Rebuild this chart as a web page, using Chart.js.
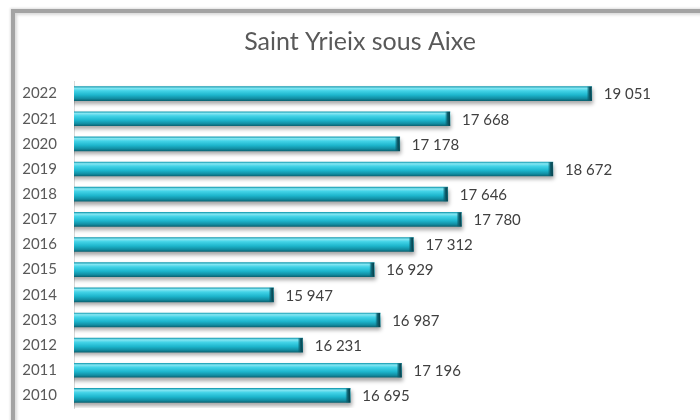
<!DOCTYPE html>
<html>
<head>
<meta charset="utf-8">
<script src="https://cdn.jsdelivr.net/npm/chart.js@4"></script>
<style>
    html, body { margin: 0; padding: 0; background: #fff; }
    #wrap { position: relative; width: 700px; height: 420px; overflow: hidden; }
    #cadre {
        position: absolute; left: 11px; top: 9px; width: 720px; height: 440px;
        border-top: 4px solid #a3a3a3; border-left: 4px solid #a3a3a3;
        box-shadow: inset 2px 2px 3px rgba(0,0,0,0.15), -1px -1px 2px rgba(0,0,0,0.12);
    }
    canvas { position: absolute; left: 0; top: 0; }
</style>
</head>
<body>
<div id="wrap">
    <div id="cadre"></div>
    <canvas id="chartPop" width="700" height="420"></canvas>
</div>
<script>
// Données
const annees = ['2022', '2021', '2020', '2019', '2018', '2017', '2016', '2015', '2014', '2013', '2012', '2011', '2010'];
const valeurs = [19051, 17668, 17178, 18672, 17646, 17780, 17312, 16929, 15947, 16987, 16231, 17196, 16695];
const titre = 'Saint Yrieix sous Aixe';
const axeMin = 14000;
const axeMax = 20000;

const POLICE = 'Lato, "Open Sans", sans-serif';
const EPAISSEUR = 14;

// Format "19 051"
function formatNombre(n) {
    return String(n).replace(/\B(?=(\d{3})+(?!\d))/g, ' ');
}

// Dégradé vertical façon barre 3D
function degradeBarre(context) {
    const chart = context.chart;
    const y = chart.scales.y;
    if (!y || context.dataIndex === undefined) return '#1fb5cc';
    const c = y.getPixelForValue(context.dataIndex);
    if (!isFinite(c)) return '#1fb5cc';
    const haut = c - EPAISSEUR / 2, bas = c + EPAISSEUR / 2;
    const g = chart.ctx.createLinearGradient(0, haut, 0, bas);
    g.addColorStop(0, '#1a9fb4');
    g.addColorStop(0.12, '#86e6f2');
    g.addColorStop(0.3, '#43d3e7');
    g.addColorStop(0.6, '#1db6cd');
    g.addColorStop(0.85, '#128ea3');
    g.addColorStop(1, '#0b6676');
    return g;
}

// Titre centré comme dans l'original
const titrePlugin = {
    id: 'titre',
    afterDraw(chart) {
        const ctx = chart.ctx;
        ctx.save();
        ctx.fillStyle = '#595959';
        ctx.font = '25px ' + POLICE;
        ctx.textAlign = 'center';
        ctx.textBaseline = 'alphabetic';
        ctx.fillText(titre, 360, 50);
        ctx.restore();
    }
};

// Ombre sous les barres
const ombrePlugin = {
    id: 'ombre',
    beforeDatasetsDraw(chart) {
        const ctx = chart.ctx;
        ctx.save();
        ctx.shadowColor = 'rgba(0,0,0,0.35)';
        ctx.shadowBlur = 4;
        ctx.shadowOffsetY = 3;
        ctx.shadowOffsetX = 1;
    },
    afterDatasetsDraw(chart) {
        chart.ctx.restore();
    }
};

// Bouts de barre et étiquettes de valeur
const etiquettesPlugin = {
    id: 'etiquettes',
    afterDatasetsDraw(chart) {
        const ctx = chart.ctx;
        const meta = chart.getDatasetMeta(0);
        ctx.save();
        meta.data.forEach((bar, i) => {
            const haut = bar.y - EPAISSEUR / 2;
            // embout sombre à droite
            const g = ctx.createLinearGradient(bar.x - 5, 0, bar.x, 0);
            g.addColorStop(0, 'rgba(10,90,105,0)');
            g.addColorStop(0.5, '#0d5f6e');
            g.addColorStop(1, '#083d47');
            ctx.fillStyle = g;
            ctx.fillRect(bar.x - 5, haut, 5, EPAISSEUR);
            // reflet à gauche
            const g2 = ctx.createLinearGradient(bar.base, 0, bar.base + 4, 0);
            g2.addColorStop(0, 'rgba(255,255,255,0.35)');
            g2.addColorStop(1, 'rgba(255,255,255,0)');
            ctx.fillStyle = g2;
            ctx.fillRect(bar.base, haut, 4, EPAISSEUR);

            ctx.fillStyle = '#404040';
            ctx.font = '15px ' + POLICE;
            ctx.textAlign = 'left';
            ctx.textBaseline = 'middle';
            ctx.fillText(formatNombre(valeurs[i]), bar.x + 12, bar.y + 1);
        });
        ctx.restore();
    }
};

document.addEventListener('DOMContentLoaded', function () {
    const ctx = document.getElementById('chartPop').getContext('2d');

    new Chart(ctx, {
        type: 'bar',
        data: {
            labels: annees,
            datasets: [{
                data: valeurs,
                backgroundColor: degradeBarre,
                borderWidth: 0,
                barThickness: EPAISSEUR
            }]
        },
        options: {
            indexAxis: 'y',
            responsive: false,
            animation: false,
            layout: {
                padding: { left: 0, right: 11, top: 81, bottom: 12 }
            },
            plugins: {
                legend: { display: false },
                tooltip: { enabled: false },
                title: { display: false }
            },
            scales: {
                x: {
                    display: false,
                    min: axeMin,
                    max: axeMax
                },
                y: {
                    grid: { display: false },
                    border: { color: '#d9d9d9' },
                    ticks: {
                        color: '#595959',
                        font: { family: POLICE, size: 15 },
                        padding: 9
                    },
                    afterFit: s => {
                        s.width = 74;
                        s.paddingTop = 0;
                        s.paddingBottom = 0;
                    }
                }
            }
        },
        plugins: [titrePlugin, ombrePlugin, etiquettesPlugin]
    });
});
</script>
</body>
</html>
